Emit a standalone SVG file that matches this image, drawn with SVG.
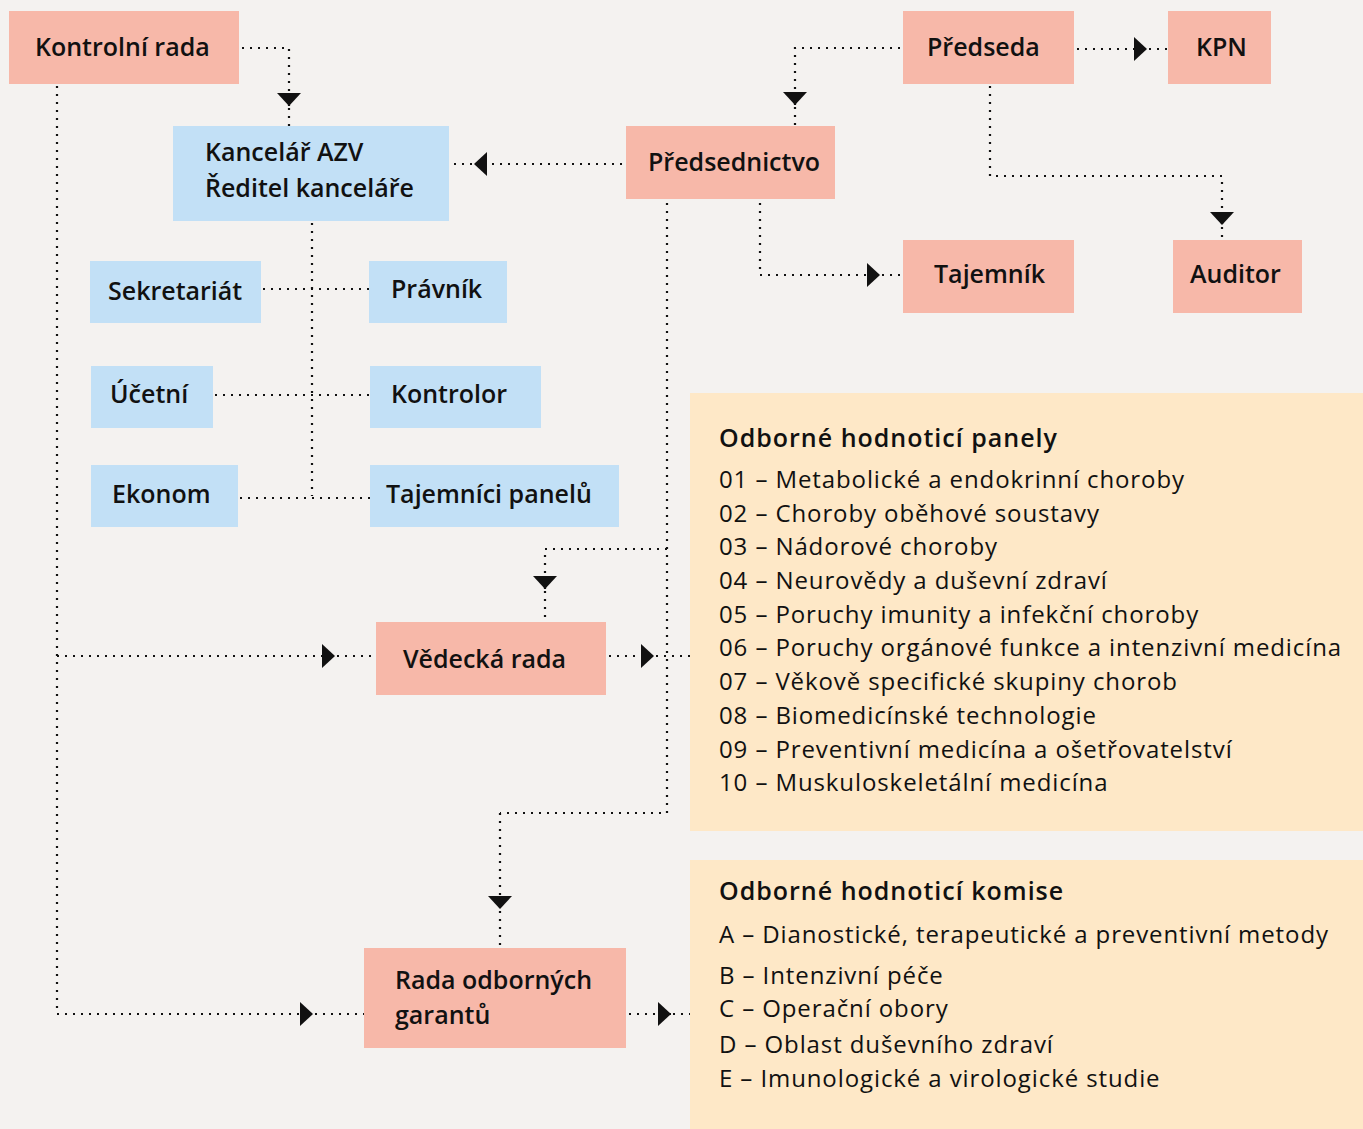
<svg xmlns="http://www.w3.org/2000/svg" width="1363" height="1129" viewBox="0 0 1363 1129">
<defs>
<style>
.bg{fill:#f4f2f0}
.red{fill:#f7b8a9}
.blue{fill:#c2e0f6}
.cream{fill:#fee8c7}
.t{font-family:"Open Sans",Lato,"Liberation Sans",sans-serif;font-size:25px;font-weight:600;fill:#111}
.h{font-family:"Open Sans",Lato,"Liberation Sans",sans-serif;font-size:25px;font-weight:600;letter-spacing:1px;fill:#111}
.i{font-family:"Open Sans",Lato,"Liberation Sans",sans-serif;font-size:24px;font-weight:400;letter-spacing:0.9px;fill:#111}
.c{fill:none;stroke:#111;stroke-width:2.2;stroke-dasharray:2 6}
.a{marker-end:url(#arr)}
</style>
<marker id="arr" markerUnits="userSpaceOnUse" markerWidth="14" markerHeight="24" viewBox="0 0 13 24" refX="13" refY="12" orient="auto">
<path d="M0,0 L13,12 L0,24 z" fill="#111"/>
</marker>
</defs>
<rect class="bg" x="0" y="0" width="1363" height="1129"/>
<g id="connectors">
<path class="c a" d="M242,48 H289 V106"/><path class="c" d="M289,108 V126"/>
<path class="c a" d="M900,48 H795 V105"/><path class="c" d="M795,107 V126"/>
<path class="c a" d="M1077,49 H1147"/><path class="c" d="M1149,49 H1168"/>
<path class="c a" d="M990,86 V176 H1222 V225"/><path class="c" d="M1222,227 V240"/>
<path class="c a" d="M622,164 H474"/><path class="c" d="M472,164 H450"/>
<path class="c a" d="M760,203 V275 H880"/><path class="c" d="M882,275 H903"/>
<path class="c" d="M667,203 V813 H500"/>
<path class="c a" d="M500,813 V909"/><path class="c" d="M500,911 V948"/>
<path class="c a" d="M667,549 H545 V589"/><path class="c" d="M545,591 V622"/>
<path class="c" d="M57,86 V1014"/>
<path class="c a" d="M57,656 H335"/><path class="c" d="M337,656 H376"/>
<path class="c a" d="M57,1014 H313"/><path class="c" d="M315,1014 H364"/>
<path class="c a" d="M609,656 H654"/><path class="c" d="M656,656 H690"/>
<path class="c a" d="M629,1014 H671"/><path class="c" d="M673,1014 H690"/>
<path class="c" d="M312,223 V496"/>
<path class="c" d="M263,289 H369"/>
<path class="c" d="M215,395 H370"/>
<path class="c" d="M240,498 H370"/>
</g>
<g id="kontrolni-rada"><rect class="red" x="9" y="11" width="230" height="73"/><text class="t" x="35" y="56">Kontrolní rada</text></g>
<g id="kancelar"><rect class="blue" x="173" y="126" width="276" height="95"/><text class="t" x="205" y="161">Kancelář AZV</text><text class="t" x="205" y="197">Ředitel kanceláře</text></g>
<g id="predseda"><rect class="red" x="903" y="11" width="171" height="73"/><text class="t" x="927" y="56">Předseda</text></g>
<g id="kpn"><rect class="red" x="1168" y="11" width="103" height="73"/><text class="t" x="1196" y="56">KPN</text></g>
<g id="predsednictvo"><rect class="red" x="626" y="126" width="209" height="73"/><text class="t" x="648" y="171">Předsednictvo</text></g>
<g id="tajemnik"><rect class="red" x="903" y="240" width="171" height="73"/><text class="t" x="934" y="283">Tajemník</text></g>
<g id="auditor"><rect class="red" x="1173" y="240" width="129" height="73"/><text class="t" x="1190" y="283">Auditor</text></g>
<g id="sekretariat"><rect class="blue" x="90" y="261" width="171" height="62"/><text class="t" x="108" y="300">Sekretariát</text></g>
<g id="pravnik"><rect class="blue" x="369" y="261" width="138" height="62"/><text class="t" x="391" y="298">Právník</text></g>
<g id="ucetni"><rect class="blue" x="91" y="366" width="122" height="62"/><text class="t" x="110" y="403">Účetní</text></g>
<g id="kontrolor"><rect class="blue" x="370" y="366" width="171" height="62"/><text class="t" x="391" y="403">Kontrolor</text></g>
<g id="ekonom"><rect class="blue" x="91" y="465" width="147" height="62"/><text class="t" x="112" y="503">Ekonom</text></g>
<g id="tajemnici-panelu"><rect class="blue" x="370" y="465" width="249" height="62"/><text class="t" x="386" y="503">Tajemníci panelů</text></g>
<g id="vedecka-rada"><rect class="red" x="376" y="622" width="230" height="73"/><text class="t" x="403" y="668">Vědecká rada</text></g>
<g id="rada-garantu"><rect class="red" x="364" y="948" width="262" height="100"/><text class="t" x="395" y="989">Rada odborných</text><text class="t" x="395" y="1024">garantů</text></g>
<g id="panely"><rect class="cream" x="690" y="393" width="673" height="438"/>
<text class="h" x="719" y="447">Odborné hodnoticí panely</text>
<text class="i" x="719" y="488">01 – Metabolické a endokrinní choroby</text>
<text class="i" x="719" y="522">02 – Choroby oběhové soustavy</text>
<text class="i" x="719" y="555">03 – Nádorové choroby</text>
<text class="i" x="719" y="589">04 – Neurovědy a duševní zdraví</text>
<text class="i" x="719" y="623">05 – Poruchy imunity a infekční choroby</text>
<text class="i" x="719" y="656">06 – Poruchy orgánové funkce a intenzivní medicína</text>
<text class="i" x="719" y="690">07 – Věkově specifické skupiny chorob</text>
<text class="i" x="719" y="724">08 – Biomedicínské technologie</text>
<text class="i" x="719" y="758">09 – Preventivní medicína a ošetřovatelství</text>
<text class="i" x="719" y="791">10 – Muskuloskeletální medicína</text>
</g>
<g id="komise"><rect class="cream" x="690" y="860" width="673" height="269"/>
<text class="h" x="719" y="900">Odborné hodnoticí komise</text>
<text class="i" x="719" y="943">A – Dianostické, terapeutické a preventivní metody</text>
<text class="i" x="719" y="984">B – Intenzivní péče</text>
<text class="i" x="719" y="1017">C – Operační obory</text>
<text class="i" x="719" y="1053">D – Oblast duševního zdraví</text>
<text class="i" x="719" y="1087">E – Imunologické a virologické studie</text>
</g>
</svg>
